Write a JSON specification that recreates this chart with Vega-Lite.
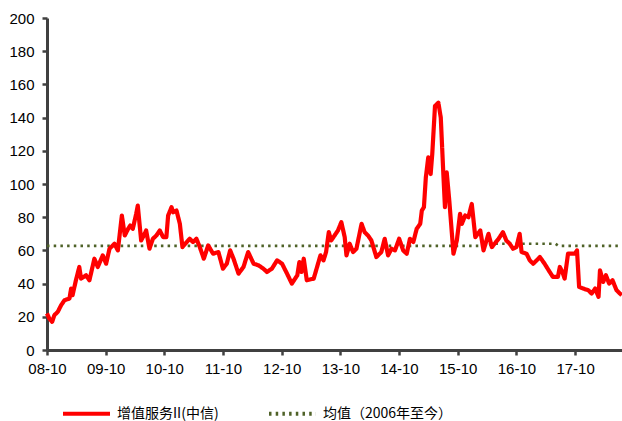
{
  "$schema": "https://vega.github.io/schema/vega-lite/v6.json",
  "autosize": {"type": "none"},
  "width": 575,
  "height": 332,
  "padding": {"left": 47, "top": 18, "right": 0, "bottom": 71},
  "background": "white",
  "config": {
    "view": {"stroke": null},
    "font": "Liberation Sans",
    "axis": {"grid": false, "domainColor": "#404040", "tickColor": "#404040", "domainWidth": 3, "tickWidth": 2.5, "labelColor": "#000000", "labelFont": "Liberation Sans", "labelFontSize": 15, "title": null, "labelFlush": false}
  },
  "datasets": {
    "idx": [
      {"date":"2008-10-01","value":22},{"date":"2008-10-15","value":19},{"date":"2008-11-02","value":17},{"date":"2008-11-16","value":21},
      {"date":"2008-12-07","value":23},{"date":"2008-12-28","value":27},{"date":"2009-01-18","value":30},{"date":"2009-02-18","value":31},
      {"date":"2009-02-28","value":37},{"date":"2009-03-09","value":33},{"date":"2009-03-30","value":42},{"date":"2009-04-20","value":50},
      {"date":"2009-05-01","value":43},{"date":"2009-06-01","value":45},{"date":"2009-06-22","value":42},{"date":"2009-07-23","value":55},
      {"date":"2009-08-13","value":50},{"date":"2009-09-13","value":57},{"date":"2009-10-04","value":52},{"date":"2009-10-25","value":61},
      {"date":"2009-11-25","value":64},{"date":"2009-12-16","value":60},{"date":"2010-01-10","value":81},{"date":"2010-01-28","value":69},
      {"date":"2010-02-18","value":73},{"date":"2010-03-03","value":75},{"date":"2010-03-19","value":73},{"date":"2010-04-09","value":82},
      {"date":"2010-04-19","value":87},{"date":"2010-05-10","value":66},{"date":"2010-06-01","value":70},{"date":"2010-06-10","value":72},
      {"date":"2010-07-01","value":61},{"date":"2010-07-22","value":67},{"date":"2010-08-13","value":69},{"date":"2010-09-03","value":72},
      {"date":"2010-09-24","value":68},{"date":"2010-10-14","value":68},{"date":"2010-10-25","value":81},{"date":"2010-11-15","value":86},
      {"date":"2010-11-25","value":83},{"date":"2010-12-16","value":84},{"date":"2011-01-06","value":76},{"date":"2011-01-22","value":62},
      {"date":"2011-02-18","value":65},{"date":"2011-03-08","value":67},{"date":"2011-03-29","value":65},{"date":"2011-04-19","value":67},
      {"date":"2011-05-10","value":62},{"date":"2011-06-04","value":55},{"date":"2011-07-01","value":63},{"date":"2011-08-01","value":58},
      {"date":"2011-09-03","value":59},{"date":"2011-10-01","value":49},{"date":"2011-10-25","value":52},{"date":"2011-11-15","value":60},
      {"date":"2011-12-06","value":55},{"date":"2012-01-06","value":46},{"date":"2012-02-06","value":50},{"date":"2012-03-06","value":59},
      {"date":"2012-04-09","value":52},{"date":"2012-05-09","value":51},{"date":"2012-06-09","value":49},{"date":"2012-07-01","value":47},
      {"date":"2012-08-01","value":49},{"date":"2012-09-02","value":54},{"date":"2012-10-03","value":52},{"date":"2012-11-03","value":46},
      {"date":"2012-12-03","value":40},{"date":"2013-01-06","value":45},{"date":"2013-01-19","value":53},{"date":"2013-02-01","value":47},
      {"date":"2013-02-15","value":55},{"date":"2013-03-06","value":42},{"date":"2013-04-18","value":43},{"date":"2013-05-30","value":57},
      {"date":"2013-06-18","value":54},{"date":"2013-07-04","value":59},{"date":"2013-07-21","value":71},{"date":"2013-08-05","value":66},
      {"date":"2013-08-26","value":69},{"date":"2013-09-16","value":72},{"date":"2013-10-07","value":77},{"date":"2013-10-28","value":68},
      {"date":"2013-11-08","value":57},{"date":"2013-11-28","value":64},{"date":"2013-12-19","value":59},{"date":"2014-01-09","value":61},
      {"date":"2014-02-10","value":76},{"date":"2014-03-01","value":71},{"date":"2014-03-22","value":69},{"date":"2014-04-12","value":66},
      {"date":"2014-05-13","value":56},{"date":"2014-06-13","value":59},{"date":"2014-07-04","value":67},{"date":"2014-07-25","value":57},
      {"date":"2014-08-15","value":61},{"date":"2014-09-06","value":60},{"date":"2014-10-02","value":67},{"date":"2014-10-27","value":60},
      {"date":"2014-11-18","value":58},{"date":"2014-12-08","value":67},{"date":"2014-12-29","value":65},{"date":"2015-01-19","value":73},
      {"date":"2015-02-10","value":76},{"date":"2015-02-20","value":84},{"date":"2015-03-05","value":86},{"date":"2015-03-17","value":104},
      {"date":"2015-04-01","value":116},{"date":"2015-04-16","value":106},{"date":"2015-04-26","value":118},{"date":"2015-05-13","value":147},
      {"date":"2015-06-03","value":149},{"date":"2015-06-18","value":140},{"date":"2015-07-04","value":106},{"date":"2015-07-14","value":86},
      {"date":"2015-07-25","value":107},{"date":"2015-08-10","value":90},{"date":"2015-09-05","value":58},{"date":"2015-09-26","value":66},
      {"date":"2015-10-16","value":82},{"date":"2015-10-27","value":76},{"date":"2015-11-17","value":81},{"date":"2015-12-07","value":80},
      {"date":"2015-12-28","value":88},{"date":"2016-01-19","value":68},{"date":"2016-02-19","value":72},{"date":"2016-03-10","value":60},
      {"date":"2016-04-10","value":70},{"date":"2016-05-01","value":62},{"date":"2016-06-12","value":67},{"date":"2016-07-09","value":71},
      {"date":"2016-07-30","value":66},{"date":"2016-08-20","value":64},{"date":"2016-09-10","value":61},{"date":"2016-10-01","value":62},
      {"date":"2016-10-21","value":70},{"date":"2016-11-02","value":59},{"date":"2016-12-03","value":58},{"date":"2016-12-23","value":54},
      {"date":"2017-01-13","value":52},{"date":"2017-02-04","value":54},{"date":"2017-02-24","value":56},{"date":"2017-03-25","value":52},
      {"date":"2017-04-26","value":47},{"date":"2017-05-16","value":44},{"date":"2017-06-16","value":44},{"date":"2017-06-28","value":50},
      {"date":"2017-07-14","value":47},{"date":"2017-07-28","value":43},{"date":"2017-08-18","value":58},{"date":"2017-09-15","value":58},
      {"date":"2017-09-30","value":58},{"date":"2017-10-13","value":60},{"date":"2017-10-26","value":38},{"date":"2017-11-21","value":37},
      {"date":"2017-12-22","value":36},{"date":"2018-01-12","value":34},{"date":"2018-02-03","value":37},{"date":"2018-02-24","value":32},
      {"date":"2018-03-05","value":48},{"date":"2018-03-25","value":41},{"date":"2018-04-11","value":45},{"date":"2018-05-01","value":40},
      {"date":"2018-05-22","value":42},{"date":"2018-06-16","value":36},{"date":"2018-07-18","value":33}
    ],
    "mean": [
      {"date":"2008-10-01","value":62.7},{"date":"2016-04-01","value":62.7},{"date":"2016-05-01","value":64},
      {"date":"2017-06-01","value":64},{"date":"2017-06-20","value":62.7},{"date":"2018-07-18","value":62.7}
    ]
  },
  "encoding": {
    "x": {
      "field": "date", "type": "temporal",
      "scale": {"type": "utc", "domain": [{"year":2008,"month":10,"date":1,"utc":true},{"year":2018,"month":7,"date":20,"utc":true}]},
      "axis": {
        "format": "%y-%m", "tickSize": 5, "labelPadding": 6, "labelOverlap": false,
        "values": [
          {"year":2008,"month":10,"date":1,"utc":true},{"year":2009,"month":10,"date":1,"utc":true},{"year":2010,"month":10,"date":1,"utc":true},
          {"year":2011,"month":10,"date":1,"utc":true},{"year":2012,"month":10,"date":1,"utc":true},{"year":2013,"month":10,"date":1,"utc":true},
          {"year":2014,"month":10,"date":1,"utc":true},{"year":2015,"month":10,"date":1,"utc":true},{"year":2016,"month":10,"date":1,"utc":true},
          {"year":2017,"month":10,"date":1,"utc":true}
        ]
      }
    },
    "y": {
      "field": "value", "type": "quantitative",
      "scale": {"domain": [0, 200], "nice": false},
      "axis": {"values": [0,20,40,60,80,100,120,140,160,180,200], "tickSize": 5, "labelPadding": 8}
    }
  },
  "layer": [
    {
      "data": {"name": "mean"},
      "mark": {"type": "line", "strokeWidth": 2.6, "strokeDash": [2.5, 4.2], "interpolate": "linear"},
      "encoding": {
        "color": {
          "datum": "均值（2006年至今）",
          "scale": {"domain": ["增值服务II(中信)", "均值（2006年至今）"], "range": ["#ff0000", "#4f6228"]},
          "legend": {
            "orient": "none", "legendX": 14, "legendY": 370, "direction": "horizontal", "title": null,
            "symbolType": "stroke", "symbolSize": 2209, "symbolStrokeWidth": 4,
            "labelFont": "Noto Sans CJK SC", "labelFontSize": 14, "labelColor": "#000000",
            "labelOffset": 5, "columnPadding": 42, "labelBaseline": "middle"
          }
        },
        "strokeDash": {
          "datum": "均值（2006年至今）",
          "scale": {"domain": ["增值服务II(中信)", "均值（2006年至今）"], "range": [[1, 0], [2.5, 4.2]]}
        }
      }
    },
    {
      "data": {"name": "idx"},
      "mark": {"type": "line", "strokeWidth": 4.2, "strokeJoin": "round", "interpolate": "linear"},
      "encoding": {
        "color": {"datum": "增值服务II(中信)"},
        "strokeDash": {"datum": "增值服务II(中信)"}
      }
    }
  ]
}
